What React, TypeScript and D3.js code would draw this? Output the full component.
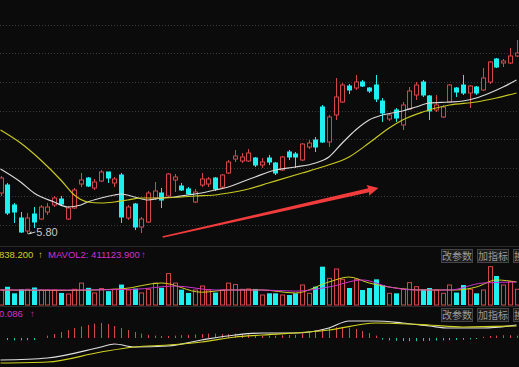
import React, { useRef, useEffect } from 'react';
import * as d3 from 'd3';

const W = 519;
const H = 367;

// daily candles (visible window)
const opens = [6.21,6.29,6.09,5.96,5.83,6.00,5.95,6.02,6.09,6.15,5.95,6.06,6.30,6.36,6.26,6.33,6.42,6.31,6.39,5.96,6.10,5.87,5.92,6.16,6.21,6.18,6.34,6.28,6.25,6.12,6.29,6.30,6.36,6.27,6.41,6.55,6.53,6.53,6.56,6.49,6.56,6.51,6.44,6.62,6.60,6.54,6.67,6.74,7.07,6.72,6.99,7.12,7.28,7.26,7.32,7.26,7.29,7.13,6.95,7.04,6.89,7.05,7.19,7.32,7.18,7.04,6.97,7.12,7.26,7.29,7.21,7.27,7.24,7.32,7.55,7.51,7.51,7.58];
const closes = [6.36,6.01,6.02,5.82,5.96,5.92,6.07,6.07,6.16,6.10,6.06,6.24,6.34,6.28,6.32,6.42,6.36,6.35,5.97,6.07,5.87,5.95,6.21,6.23,6.14,6.40,6.37,6.24,6.20,6.22,6.35,6.35,6.25,6.39,6.52,6.58,6.57,6.61,6.49,6.52,6.52,6.41,6.57,6.57,6.57,6.70,6.71,6.67,6.72,6.97,7.17,7.29,7.24,7.32,7.28,7.23,7.15,7.01,6.99,6.96,7.09,7.23,7.29,7.19,7.03,7.09,7.07,7.29,7.22,7.21,7.28,7.21,7.36,7.52,7.47,7.53,7.58,7.61];
const highs = [6.38,6.31,6.11,6.02,6.01,6.07,6.09,6.11,6.18,6.18,6.08,6.26,6.41,6.37,6.35,6.44,6.42,6.37,6.41,6.09,6.11,5.97,6.23,6.32,6.26,6.41,6.40,6.31,6.27,6.25,6.41,6.37,6.37,6.40,6.54,6.64,6.61,6.65,6.57,6.56,6.59,6.52,6.58,6.64,6.62,6.71,6.74,6.77,7.09,6.99,7.36,7.31,7.30,7.39,7.34,7.27,7.39,7.16,7.01,7.06,7.12,7.27,7.32,7.34,7.19,7.19,7.09,7.30,7.27,7.39,7.29,7.28,7.46,7.53,7.56,7.55,7.66,7.74];
const lows = [6.18,5.99,5.91,5.81,5.80,5.86,5.94,5.99,6.07,6.09,5.94,6.05,6.27,6.27,6.24,6.32,6.31,6.27,5.91,5.94,5.84,5.81,5.91,6.14,6.06,6.17,6.22,6.23,6.19,6.11,6.27,6.27,6.23,6.26,6.40,6.52,6.51,6.52,6.47,6.46,6.49,6.39,6.43,6.54,6.46,6.53,6.65,6.62,6.71,6.67,6.94,7.11,7.20,7.24,7.27,7.21,7.12,6.92,6.93,6.92,6.84,7.04,7.14,7.17,6.94,7.02,6.96,7.11,7.17,7.19,7.06,7.19,7.23,7.30,7.46,7.47,7.50,7.57];

// moving averages: [day index, price]
const maShort = [[0,6.45],[3,6.32],[5,6.21],[8,6.12],[10,6.07],[12,6.09],[13,6.12],[15,6.16],[17,6.19],[18,6.20],[20,6.17],[22,6.14],[24,6.16],[26,6.17],[28,6.19],[30,6.21],[32,6.24],[34,6.27],[36,6.32],[38,6.37],[41,6.44],[44,6.47],[47,6.51],[49,6.57],[51,6.71],[53,6.84],[55,6.94],[57,6.99],[60,7.03],[62,7.07],[64,7.11],[67,7.12],[69,7.13],[71,7.16],[73,7.21],[75,7.27],[77,7.34]];
const maLong = [[0,6.84],[3,6.71],[6,6.54],[9,6.34],[11,6.19],[13,6.12],[15,6.11],[17,6.12],[19,6.14],[21,6.16],[24,6.16],[27,6.17],[29,6.18],[32,6.19],[34,6.21],[37,6.25],[40,6.31],[45,6.41],[48,6.47],[52,6.57],[55,6.71],[58,6.86],[60,6.94],[63,7.02],[67,7.09],[71,7.12],[74,7.16],[77,7.21]];

const lowMark = { day: 4, label: '5.80' };
const gridPrices = [7.89, 7.605, 7.32, 7.035, 6.75, 6.465, 6.18, 5.895];
const trendArrow = { from: [24.2, 5.77], to: [56.4, 6.26] };

// volume (thousand shares)
const volumes = [411,500,320,430,430,480,411,411,411,330,300,430,600,470,330,450,380,430,560,411,450,330,430,600,470,860,600,420,330,411,520,411,340,411,600,560,430,440,440,274,320,320,274,274,320,548,320,502,1050,730,986,703,466,703,411,466,703,548,320,320,430,612,502,430,466,411,320,548,340,548,430,320,411,1050,795,548,640,430].map(v => v * 1000);
const mavol1 = [[0,411],[10,400],[18,440],[24,603],[30,350],[34,411],[39,411],[44,329],[49,630],[52,767],[55,603],[59,466],[63,411],[68,411],[71,493],[74,685],[77,630]].map(([d, v]) => [d, v * 1000]);
const mavol2 = [[0,411],[10,411],[20,430],[26,520],[32,411],[39,411],[44,380],[49,493],[54,685],[58,493],[62,411],[67,411],[72,603],[77,630]].map(([d, v]) => [d, v * 1000]);

// MACD
const dif = [[0,-0.11],[7,-0.10],[15,-0.045],[17,-0.03],[20,-0.045],[25,-0.04],[30,-0.01],[35,0.015],[39,0.025],[44,0.025],[49,0.05],[52,0.085],[56,0.085],[60,0.075],[64,0.06],[67,0.05],[72,0.05],[77,0.065]];
const dea = [[0,-0.125],[7,-0.12],[15,-0.07],[20,-0.045],[25,-0.035],[30,-0.02],[35,0.005],[39,0.015],[49,0.04],[56,0.075],[64,0.065],[69,0.055],[77,0.06]];
const macdHist = [0,-0.01,-0.012,-0.012,-0.011,-0.01,0,0.012,0.02,0.03,0.04,0.05,0.058,0.065,0.072,0.075,0.07,0.06,0.05,0.04,0.03,0.022,0.016,0.012,0.01,0.01,0.012,0.014,0.016,0.018,0.02,0.022,0.022,0.02,0.02,0.022,0.02,0.018,0.015,0.012,0.012,0.012,0.014,0.015,0.016,0.022,0.03,0.038,0.045,0.05,0.054,0.055,0.052,0.045,0.035,0.025,0.012,-0.008,-0.012,-0.014,-0.015,-0.016,-0.016,-0.015,-0.014,-0.013,-0.012,-0.011,-0.01,-0.009,-0.007,-0.005,0.006,0.01,0.012,0.014,0.014,0.012];

const UP = '#d2474a';
const DOWN = '#1ef0f0';

const App = () => {
  const svgRef = useRef(null);

  useEffect(() => {
    const svg = d3.select(svgRef.current);
    svg.selectAll('*').remove();

    const n = opens.length;
    const x = d3.scaleLinear().domain([0, n - 1]).range([0.5, 516.5]);
    const y = d3.scaleLinear().domain([5.68, 8.14]).range([246, 0]);
    const yVol = d3.scaleLinear().domain([0, 1200000]).range([305, 261.2]);
    const yMacd = d3.scaleLinear().domain([-0.145, 0.145]).range([367, 309]);

    svg.append('rect').attr('width', W).attr('height', H).attr('fill', '#0b0b0b');

    // grid
    svg.append('g').selectAll('line').data(gridPrices).enter().append('line')
      .attr('x1', 0).attr('x2', W)
      .attr('y1', d => Math.round(y(d)) + 0.5).attr('y2', d => Math.round(y(d)) + 0.5)
      .attr('stroke', '#3a3a3a').attr('stroke-dasharray', '1,2');

    // panel separators
    [246.5, 306.5].forEach(v => {
      svg.append('line').attr('x1', 0).attr('x2', W).attr('y1', v).attr('y2', v)
        .attr('stroke', '#2a2a2a');
    });

    const days = d3.range(n);
    const bw = 4;

    // candles
    const cg = svg.append('g');
    days.forEach(i => {
      const up = closes[i] >= opens[i];
      const col = up ? UP : DOWN;
      const cx = Math.round(x(i)) + 0.5;
      const top = y(Math.max(opens[i], closes[i]));
      const bot = y(Math.min(opens[i], closes[i]));
      cg.append('line').attr('x1', cx).attr('x2', cx)
        .attr('y1', y(highs[i])).attr('y2', top).attr('stroke', col);
      cg.append('line').attr('x1', cx).attr('x2', cx)
        .attr('y1', bot).attr('y2', y(lows[i])).attr('stroke', col);
      if (up) {
        cg.append('rect').attr('x', cx - bw / 2).attr('y', top)
          .attr('width', bw).attr('height', Math.max(1, bot - top))
          .attr('fill', '#0b0b0b').attr('stroke', col);
      } else {
        cg.append('rect').attr('x', cx - bw / 2 - 0.5).attr('y', top - 0.5)
          .attr('width', bw + 1).attr('height', Math.max(1, bot - top + 1))
          .attr('fill', col);
      }
    });

    const maLine = d3.line().x(d => x(d[0])).y(d => y(d[1])).curve(d3.curveMonotoneX);
    svg.append('path').datum(maShort).attr('d', maLine)
      .attr('fill', 'none').attr('stroke', '#d8d8d8').attr('stroke-width', 1.2);
    svg.append('path').datum(maLong).attr('d', maLine)
      .attr('fill', 'none').attr('stroke', '#c8c820').attr('stroke-width', 1.2);

    // low marker
    const lx = x(lowMark.day);
    const ly = y(lows[lowMark.day]);
    svg.append('line').attr('x1', lx + 1).attr('y1', ly).attr('x2', lx + 8).attr('y2', ly - 2)
      .attr('stroke', '#cccccc');
    svg.append('path').attr('d', `M${lx + 1},${ly} l3,-3 l0,3 z`).attr('fill', '#cccccc');
    svg.append('text').attr('x', lx + 9).attr('y', ly + 2)
      .attr('fill', '#c8c8c8').attr('font-size', 11)
      .attr('font-family', 'Liberation Sans, Arial, sans-serif')
      .text(lowMark.label);

    // trend arrow
    const [ax0, ay0] = [x(trendArrow.from[0]), y(trendArrow.from[1])];
    const [ax1, ay1] = [x(trendArrow.to[0]), y(trendArrow.to[1])];
    const ang = Math.atan2(ay1 - ay0, ax1 - ax0);
    const len = Math.hypot(ax1 - ax0, ay1 - ay0);
    const ag = svg.append('g').attr('transform', `translate(${ax0},${ay0}) rotate(${ang * 180 / Math.PI})`);
    ag.append('path')
      .attr('d', `M0,-0.8 L${len - 10},-2 L${len - 11},-5.5 L${len},0 L${len - 11},5.5 L${len - 10},2 L0,0.8 Z`)
      .attr('fill', '#f23c3c');

    // volume
    const vg = svg.append('g');
    days.forEach(i => {
      const up = closes[i] >= opens[i];
      const col = up ? UP : DOWN;
      const cx = Math.round(x(i)) + 0.5;
      const t = yVol(volumes[i]);
      if (up) {
        vg.append('rect').attr('x', cx - bw / 2).attr('y', t)
          .attr('width', bw).attr('height', yVol(0) - t)
          .attr('fill', 'none').attr('stroke', col);
      } else {
        vg.append('rect').attr('x', cx - bw / 2 - 0.5).attr('y', t)
          .attr('width', bw + 1).attr('height', yVol(0) - t)
          .attr('fill', col);
      }
    });
    const volLine = d3.line().x(d => x(d[0])).y(d => yVol(d[1])).curve(d3.curveMonotoneX);
    svg.append('path').datum(mavol1).attr('d', volLine)
      .attr('fill', 'none').attr('stroke', '#d0d020');
    svg.append('path').datum(mavol2).attr('d', volLine)
      .attr('fill', 'none').attr('stroke', '#d030d0');

    // macd
    const mg = svg.append('g');
    days.forEach(i => {
      const v = macdHist[i];
      const cx = Math.round(x(i)) + 0.5;
      mg.append('line').attr('x1', cx).attr('x2', cx)
        .attr('y1', yMacd(0)).attr('y2', yMacd(v))
        .attr('stroke', v >= 0 ? UP : '#18c8b0');
    });
    const macdLine = d3.line().x(d => x(d[0])).y(d => yMacd(d[1])).curve(d3.curveMonotoneX);
    svg.append('path').datum(dif).attr('d', macdLine)
      .attr('fill', 'none').attr('stroke', '#e0e0e0').attr('stroke-width', 1.2);
    svg.append('path').datum(dea).attr('d', macdLine)
      .attr('fill', 'none').attr('stroke', '#d0d020').attr('stroke-width', 1.2);

    // headers
    const font = 'Liberation Sans, Arial, sans-serif';
    const vh = svg.append('text').attr('y', 258).attr('font-size', 9.5).attr('font-family', font);
    vh.append('tspan').attr('x', -1).attr('fill', '#d0d020').text('838.200');
    vh.append('tspan').attr('x', 38).attr('fill', '#d0d020').text('↑');
    vh.append('tspan').attr('x', 48).attr('fill', '#d030d0').text('MAVOL2: 411123.900');
    vh.append('tspan').attr('x', 141).attr('fill', '#d030d0').text('↑');

    const mh = svg.append('text').attr('y', 317).attr('font-size', 9.5).attr('font-family', font);
    mh.append('tspan').attr('x', -1).attr('fill', '#d030d0').text('0.086');
    mh.append('tspan').attr('x', 30).attr('fill', '#d030d0').text('↑');

    const buttons = ['改参数', '加指标', '换指标'];
    [249, 308].forEach(by => {
      buttons.forEach((b, k) => {
        const bx = 441 + k * 36;
        svg.append('rect').attr('x', bx + 0.5).attr('y', by + 0.5).attr('width', 31).attr('height', 13)
          .attr('fill', '#1c1c1c').attr('stroke', '#444');
        svg.append('text').attr('x', bx + 16).attr('y', by + 11).attr('text-anchor', 'middle')
          .attr('font-size', 10).attr('font-family', 'Noto Sans CJK SC, sans-serif')
          .attr('fill', '#9a9a9a').text(b);
      });
    });
  }, []);

  return (
    <svg ref={svgRef} width={W} height={H}
      style={{ position: 'absolute', left: 0, top: 0, display: 'block' }} />
  );
};

export default App;
